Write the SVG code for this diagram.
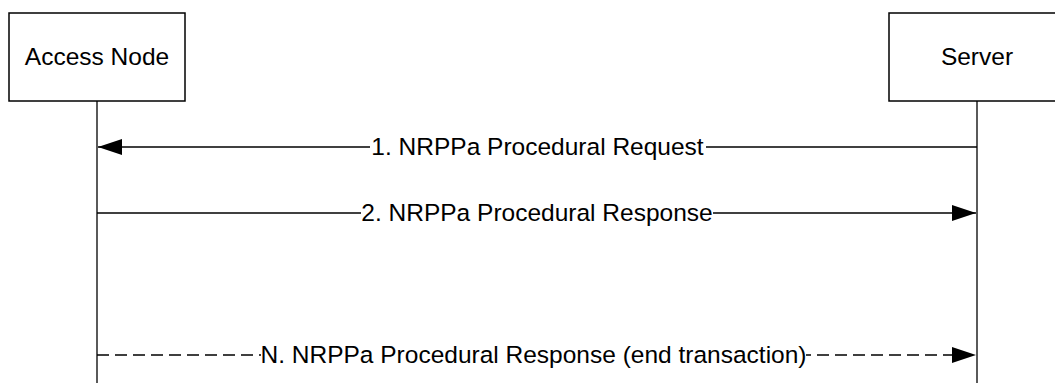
<svg xmlns="http://www.w3.org/2000/svg" width="1055" height="383" viewBox="0 0 1055 383">
<style>
.box{fill:#fff;stroke:#000;stroke-width:1.5}
.life{stroke:#000;stroke-width:1.3}
.msg{stroke:#000;stroke-width:1.3;fill:none}
.dash{stroke-dasharray:12 6}
.t{font-family:"Liberation Sans",Arial,sans-serif;font-size:24.5px;fill:#000;text-anchor:middle}
.bg{fill:#fff}
</style>
<defs>
<marker id="ah" markerUnits="userSpaceOnUse" markerWidth="24" markerHeight="16" refX="24" refY="8" orient="auto">
<path d="M0,0 L24,8 L0,16 Z" fill="#000"/>
</marker>
</defs>
<g id="node-access">
<rect class="box" x="9" y="13" width="176" height="88"/>
<text class="t" x="97" y="65">Access Node</text>
<line class="life" x1="97" y1="101" x2="97" y2="383"/>
</g>
<g id="node-server">
<rect class="box" x="889" y="13" width="176" height="88"/>
<text class="t" x="977" y="65">Server</text>
<line class="life" x1="977" y1="101" x2="977" y2="383"/>
</g>
<g id="connectors">
<g id="msg1">
<line class="msg" x1="977" y1="147" x2="98" y2="147" marker-end="url(#ah)"/>
<rect class="bg" x="370" y="136" width="336" height="24"/>
<text class="t" x="537.5" y="155">1. NRPPa Procedural Request</text>
</g>
<g id="msg2">
<line class="msg" x1="97" y1="213" x2="976" y2="213" marker-end="url(#ah)"/>
<rect class="bg" x="361" y="202" width="352" height="24"/>
<text class="t" x="537" y="221">2. NRPPa Procedural Response</text>
</g>
<g id="msgN">
<line class="msg dash" x1="97" y1="355" x2="976" y2="355" marker-end="url(#ah)"/>
<rect class="bg" x="261" y="344" width="545" height="24"/>
<text class="t" x="533.5" y="363">N. NRPPa Procedural Response (end transaction)</text>
</g>
</g>
</svg>
